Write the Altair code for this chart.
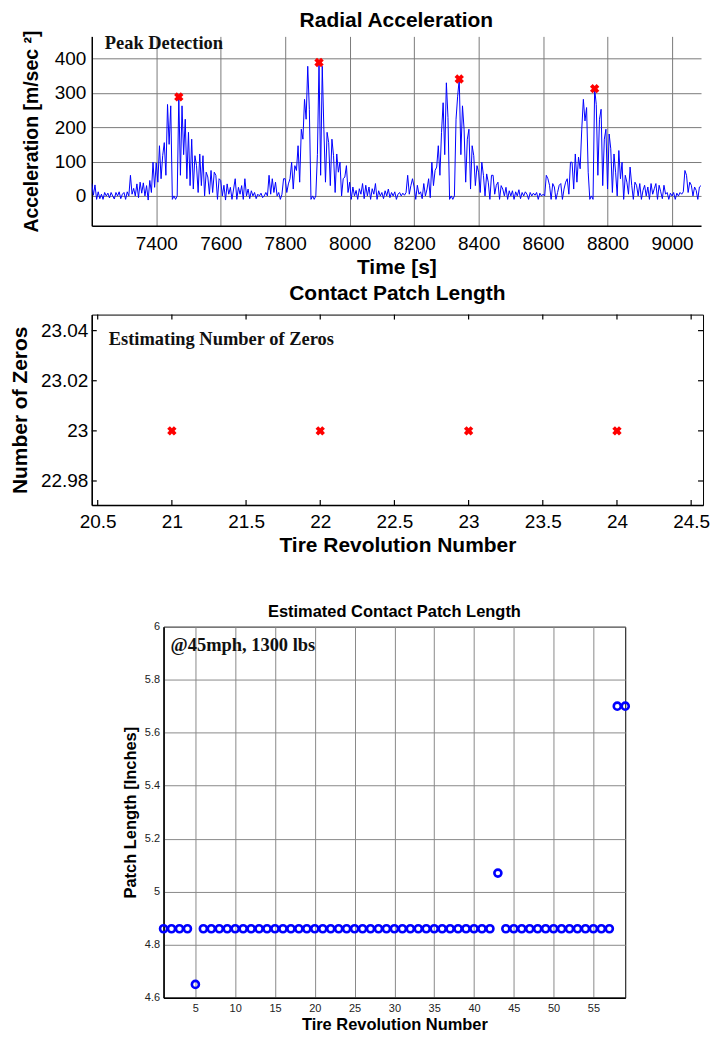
import altair as alt
import pandas as pd

SANS = "Liberation Sans, Arial, Helvetica, sans-serif"
SERIF = "Liberation Serif, Times New Roman, serif"

# ---------------- Panel 1 data: radial acceleration ----------------
t0 = 7200
dt = 5
accel = [
    36, 2, 32, -10, 12, -8, 5, -10, 10, 0, 8, -6, 10, 0, -9, 10, 0, 12, -8, 5,
    10, -10, 12, 0, 60, 5, 22, 0, 35, -5, 40, 8, 38, 0, 30, -12, 45, 10, 98, 25,
    96, 40, 146, 50, 117, 155, 60, 266, 150, 262, -10, 0, -10, 0, 288, 60, 262, 120, 223, 50,
    185, 30, 165, 20, 117, 88, 10, 122, 30, 117, 0, 69, 55, 5, 74, 10, 69, 60, -10, 50,
    45, 0, 31, -12, 35, 5, 25, -10, 20, 50, -10, 25, 5, 30, -10, 50, 0, 20, -8, 15,
    0, 10, -8, 5, 0, 8, -5, 0, 10, 0, 60, 5, 50, 10, 40, 0, 10, -10, 5, 50,
    50, 10, 35, 50, 98, 20, 88, 74, 146, 40, 194, 165, 281, 223, 377, 252, -10, 0, -10, 0,
    120, 388, 60, 377, 194, 40, 185, 155, 30, 165, 117, 10, 122, 69, 98, 0, 50, 55, 88, 10,
    40, -10, 26, 0, 16, -10, 21, 5, 36, -8, 31, 0, 26, -10, 21, 5, 36, -10, 15, 0,
    10, -8, 15, 0, 20, -5, 10, 0, 12, -10, 5, 10, 0, 8, 2, 10, 60, 5, 30, 50,
    26, -10, 31, 5, 12, -8, 36, 0, 20, 50, -5, 98, 30, 74, 84, 146, 60, 185, 271, 120,
    329, 228, -10, 0, -10, 0, 223, 290, 340, 120, 262, 194, 40, 165, 194, 20, 146, 117, 30, 88,
    69, 10, 98, 60, 0, 64, 40, -10, 60, 60, 5, 31, 40, -10, 30, 20, 0, 25, -10, 15,
    0, 15, -10, 12, 0, 18, -8, 10, 0, 12, 5, -10, 10, 0, 8, 2, 10, -10, 8, 0,
    5, 0, 60, 50, 31, -10, 36, 26, -10, 10, 31, 36, -10, 20, 40, 50, 5, 98, 98, 20,
    122, 40, 113, 79, 194, 281, 218, 257, 69, -10, 0, -10, 312, 266, 60, 223, 252, 30, 165, 194,
    20, 180, 137, 10, 122, 69, 0, 132, 50, 98, -10, 60, 40, 5, 84, 31, -10, 40, 31, 0,
    36, -10, 16, 31, 0, 26, -10, 36, 5, 21, 36, -10, 31, 12, -8, 31, 5, 10, -10, 8,
    0, 10, -10, 8, 0, 10, 5, 12, 74, 60, 10, 40, 31, 0, 26, 16, -10, 26, 30,
]
time = [t0 + i * dt for i in range(len(accel))]
peak_t = [7470, 7905, 8340, 8760]
peak_v = [288, 388, 340, 312]
x1_ticks = [7400, 7600, 7800, 8000, 8200, 8400, 8600, 8800, 9000]
y1_ticks = [0, 100, 200, 300, 400]
note1 = ["Peak Detection"]

# ---------------- Panel 2 data: number of zeros ----------------
rev2 = [21, 22, 23, 24]
zeros2 = [23, 23, 23, 23]
x2_ticks = [20.5, 21, 21.5, 22, 22.5, 23, 23.5, 24, 24.5]
y2_ticks = [22.98, 23.0, 23.02, 23.04]
note2 = ["Estimating Number of Zeros"]

# ---------------- Panel 3 data: patch length ----------------
rev3 = list(range(1, 60))
patch = ([4.86, 4.86, 4.86, 4.86, 4.65]
         + [4.86] * 37
         + [5.07]
         + [4.86] * 14
         + [5.70, 5.70])
x3_ticks = [5, 10, 15, 20, 25, 30, 35, 40, 45, 50, 55]
y3_ticks = [4.6, 4.8, 5.0, 5.2, 5.4, 5.6, 5.8, 6.0]
note3 = ["@45mph, 1300 lbs"]


def axis(title, values, fmt, lsize, tsize, lpad, tpad, grid, gcolor="#808080",
         lcolor="black"):
    return alt.Axis(
        title=title, values=values, format=fmt,
        labelFont=SANS, labelFontSize=lsize, labelColor=lcolor,
        titleFont=SANS, titleFontSize=tsize, titleFontWeight="bold",
        titleColor="black", labelPadding=lpad, titlePadding=tpad,
        ticks=False, tickSize=0, domainColor="black", domainWidth=1.5,
        grid=grid, gridColor=gcolor, gridWidth=1, gridOpacity=1,
        labelFlush=False, labelOverlap=False,
    )


def band(y_top, y_bottom):
    # invisible rule below the plot that fixes where the next panel starts
    return alt.Chart(pd.DataFrame({"k": [0]})).mark_rule(opacity=0, strokeWidth=0.5).encode(
        x=alt.value(0), y=alt.value(y_top), y2=alt.value(y_bottom))


# ---------------- Panel 1 ----------------
W1, H1 = 611, 190
df1 = pd.DataFrame({"t": time, "a": accel})
dfp = pd.DataFrame({"t": peak_t, "a": peak_v})
X1 = alt.X("t:Q", scale=alt.Scale(domain=[7200, 9090], nice=False, zero=False),
           axis=axis("Time [s]", x1_ticks, "d", 19, 21, 9, 3, True, "#7a7a7a"))
Y1 = alt.Y("a:Q", scale=alt.Scale(domain=[-87, 464], nice=False, zero=False),
           axis=axis("Acceleration [m/sec ²]", y1_ticks, "d", 19, 19.5, 6, 13, True, "#7a7a7a"))
line1 = alt.Chart(df1).mark_line(color="#0000ff", strokeWidth=1, clip=True).encode(x=X1, y=Y1)
pk1 = alt.Chart(dfp).mark_point(shape="cross", angle=45, filled=True, color="#ff0000",
                                size=90, opacity=1).encode(x="t:Q", y="a:Q")
tx1 = alt.Chart(pd.DataFrame({"s": note1})).mark_text(
    font=SERIF, fontSize=18.5, fontWeight="bold", align="left", baseline="alphabetic",
    color="#111111").encode(x=alt.value(13), y=alt.value(13), text="s:N")
p1 = alt.layer(band(H1, 246), line1, pk1, tx1).properties(
    width=W1, height=H1,
    title=alt.TitleParams("Radial Acceleration", font=SANS, fontSize=21, fontWeight="bold",
                          color="black", anchor="middle", baseline="alphabetic",
                          offset=-18, frame="group"),
    view=alt.ViewBackground(stroke=None),
)

# ---------------- Panel 2 ----------------
W2, H2 = 613, 191
df2 = pd.DataFrame({"r": rev2, "z": zeros2})
X2 = alt.X("r:Q", scale=alt.Scale(domain=[20.46, 24.58], nice=False, zero=False),
           axis=axis("Tire Revolution Number", x2_ticks, ".1~f", 19, 21, 8, 3, False))
Y2 = alt.Y("z:Q", scale=alt.Scale(domain=[22.9704, 23.0464], nice=False, zero=False),
           axis=axis("Number of Zeros", y2_ticks, ".2~f", 19, 21, 4, 10, False))
pts2 = alt.Chart(df2).mark_point(shape="cross", angle=45, filled=True, color="#ff0000",
                                 size=90, opacity=1).encode(x=X2, y=Y2)
dfx2 = pd.DataFrame({"r": x2_ticks})
dfy2 = pd.DataFrame({"z": y2_ticks})
tb = alt.Chart(dfx2).mark_rule(color="black", strokeWidth=1.2).encode(
    x="r:Q", y=alt.value(H2), y2=alt.value(H2 - 5))
tt = alt.Chart(dfx2).mark_rule(color="black", strokeWidth=1.2).encode(
    x="r:Q", y=alt.value(0), y2=alt.value(5))
tl = alt.Chart(dfy2).mark_rule(color="black", strokeWidth=1.2).encode(
    y="z:Q", x=alt.value(0), x2=alt.value(5))
tr = alt.Chart(dfy2).mark_rule(color="black", strokeWidth=1.2).encode(
    y="z:Q", x=alt.value(W2), x2=alt.value(W2 - 5))
tx2 = alt.Chart(pd.DataFrame({"s": note2})).mark_text(
    font=SERIF, fontSize=18.5, fontWeight="bold", align="left", baseline="alphabetic",
    color="#111111").encode(x=alt.value(17), y=alt.value(30), text="s:N")
p2 = alt.layer(band(H2, 289), pts2, tb, tt, tl, tr, tx2).properties(
    width=W2, height=H2,
    title=alt.TitleParams("Contact Patch Length", font=SANS, fontSize=21, fontWeight="bold",
                          color="black", anchor="middle", baseline="alphabetic",
                          offset=-6.5, frame="group"),
    view=alt.ViewBackground(stroke="black", strokeWidth=1),
)

# ---------------- Panel 3 ----------------
W3, H3 = 463, 372
df3 = pd.DataFrame({"r": rev3, "p": patch})
X3 = alt.X("r:Q", scale=alt.Scale(domain=[1, 59], nice=False, zero=False),
           axis=axis("Tire Revolution Number", x3_ticks, "d", 11, 16.5, 5, 3, True,
                     "#8a8a8a", "#222222"))
Y3 = alt.Y("p:Q", scale=alt.Scale(domain=[4.6, 6.0], nice=False, zero=False),
           axis=axis("Patch Length [Inches]", y3_ticks, ".1~f", 11, 16.5, 4, 6, True,
                     "#8a8a8a", "#222222"))
pts3 = alt.Chart(df3).mark_point(shape="circle", filled=False, color="#0000ff",
                                 strokeWidth=2.6, size=50, opacity=1, clip=False).encode(x=X3, y=Y3)
tx3 = alt.Chart(pd.DataFrame({"s": note3})).mark_text(
    font=SERIF, fontSize=18.5, fontWeight="bold", align="left", baseline="alphabetic",
    color="#111111").encode(x=alt.value(7), y=alt.value(24), text="s:N")
p3 = alt.layer(pts3, tx3).properties(
    width=W3, height=H3,
    title=alt.TitleParams("Estimated Contact Patch Length", font=SANS, fontSize=16.5,
                          fontWeight="bold", color="black", anchor="middle",
                          baseline="alphabetic", offset=-13, frame="group"),
    view=alt.ViewBackground(stroke="black", strokeWidth=1),
)

spacer = alt.Chart(pd.DataFrame({"k": [0]})).mark_point(opacity=0, size=1).encode(
    x=alt.value(0), y=alt.value(0)).properties(
    width=30, height=1, view=alt.ViewBackground(stroke=None))

bottom = alt.hconcat(spacer, p3, spacing=0)
chart = alt.vconcat(p1, p2, bottom, spacing=0).properties(
    padding={"left": 0, "top": 0, "right": 0, "bottom": 0},
    background="white",
)

chart.save("out.html", embed_options={"renderer": "svg", "actions": False})
